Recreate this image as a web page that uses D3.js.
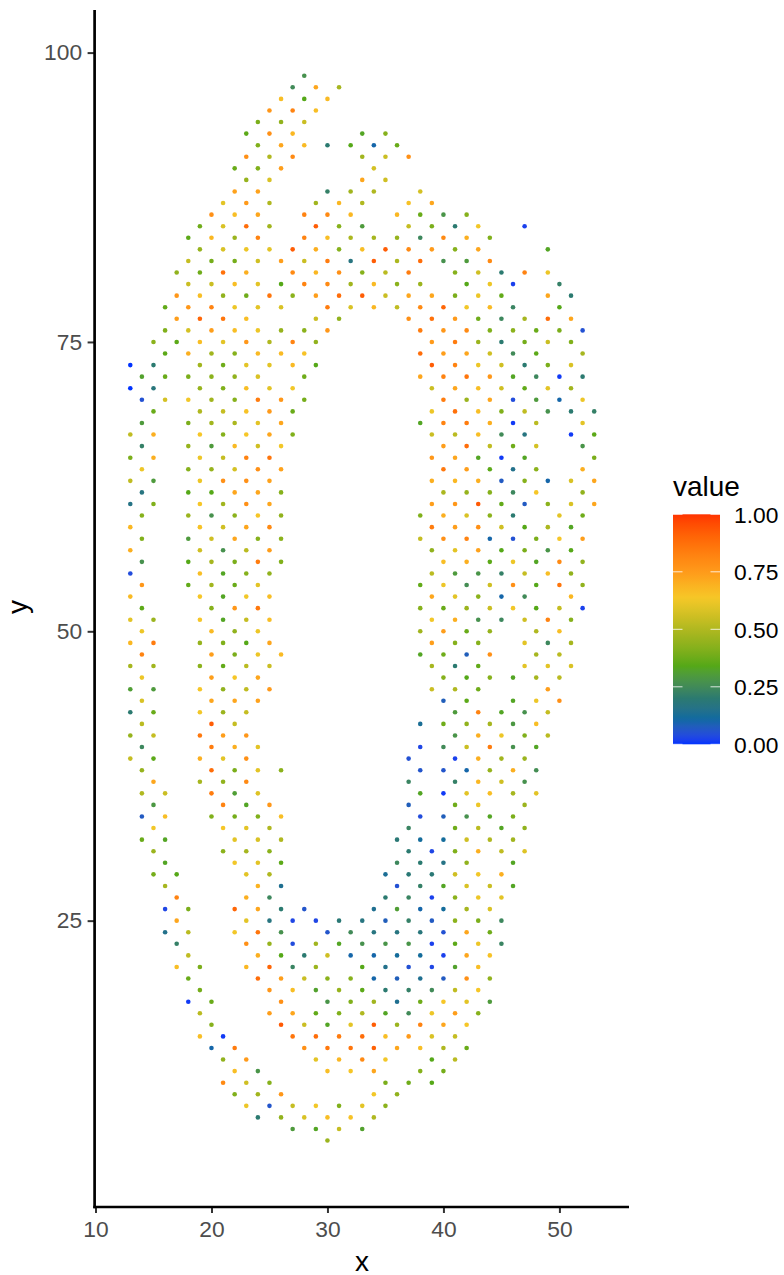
<!DOCTYPE html>
<html>
<head>
<meta charset="utf-8">
<script src="https://cdn.jsdelivr.net/npm/d3@7"></script>
<style>
body { margin: 0; background: #fff; }
text { font-family: "Liberation Sans", Arial, sans-serif; }
</style>
</head>
<body>
<svg width="784" height="1275"></svg>
<script>
const xTicks = [10, 20, 30, 40, 50];
const yTicks = [25, 50, 75, 100];
const legendTicks = [0, 0.25, 0.5, 0.75, 1];
const colorStops = [0, 0.11, 0.2, 0.34, 0.5, 0.635, 0.75, 1];
const colorValues = ['#0033ff', '#0a6aa0', '#2b7a70', '#55a818', '#b0b820', '#f5c828', '#ff9a1a', '#ff3300'];

const rowY = [98, 97, 96, 95, 94, 93, 92, 91, 90, 89, 88, 87, 86, 85, 84, 83, 82, 81, 80, 79, 78, 77, 76,
  75, 74, 73, 72, 71, 70, 69, 68, 67, 66, 65, 64, 63, 62, 61, 60, 59, 58, 57, 56, 55, 54, 53, 52, 51,
  50, 49, 48, 47, 46, 45, 44, 43, 42, 41, 40, 39, 38, 37, 36, 35, 34, 33, 32, 31, 30, 29,
  28, 27, 26, 25, 24, 23, 22, 21, 20, 19, 18, 17, 16, 15, 14, 13, 12, 11, 10, 9, 8, 7, 6];

const rowX = [
  [28],
  [27, 29, 31],
  [26, 28, 30],
  [25, 27, 29],
  [24, 26, 28],
  [23, 25, 27, 33, 35],
  [24, 26, 28, 30, 32, 34, 36],
  [23, 25, 27, 33, 35, 37],
  [22, 24, 26, 34],
  [23, 25, 33, 35],
  [22, 24, 30, 32, 34, 38],
  [21, 23, 25, 29, 31, 33, 37, 39],
  [20, 22, 24, 28, 30, 32, 36, 38, 40, 42],
  [19, 21, 23, 25, 29, 31, 33, 37, 39, 41, 43, 47],
  [18, 20, 22, 24, 28, 30, 32, 34, 36, 38, 40, 42, 44],
  [19, 21, 23, 25, 27, 29, 31, 33, 35, 37, 39, 41, 43, 49],
  [18, 20, 22, 24, 26, 28, 30, 32, 34, 36, 38, 40, 42, 44],
  [17, 19, 21, 23, 27, 29, 31, 33, 35, 37, 41, 43, 45, 47, 49],
  [18, 20, 22, 24, 26, 28, 30, 32, 34, 36, 38, 42, 44, 46, 50],
  [17, 19, 21, 23, 25, 27, 29, 31, 33, 35, 37, 39, 41, 43, 45, 49, 51],
  [16, 18, 20, 22, 24, 26, 30, 32, 34, 36, 38, 40, 42, 44, 46, 50],
  [17, 19, 21, 23, 29, 31, 37, 39, 41, 43, 45, 47, 49, 51],
  [16, 18, 20, 22, 24, 26, 28, 30, 38, 40, 42, 44, 46, 48, 50, 52],
  [15, 17, 19, 21, 23, 25, 27, 29, 39, 41, 43, 45, 47, 49, 51],
  [16, 18, 20, 22, 24, 26, 28, 38, 40, 42, 44, 46, 48, 52],
  [13, 15, 19, 21, 23, 25, 27, 29, 39, 41, 43, 45, 47, 49, 51],
  [14, 16, 18, 20, 22, 24, 28, 38, 40, 42, 44, 46, 48, 50, 52],
  [13, 15, 19, 21, 23, 25, 27, 39, 41, 43, 45, 47, 49, 51],
  [14, 16, 18, 20, 22, 24, 26, 28, 40, 42, 44, 46, 48, 50, 52],
  [15, 19, 21, 23, 25, 27, 39, 41, 43, 45, 47, 49, 51, 53],
  [14, 18, 20, 22, 24, 26, 38, 40, 42, 44, 46, 48, 52],
  [13, 15, 19, 21, 23, 25, 27, 39, 41, 43, 45, 47, 51, 53],
  [14, 18, 20, 22, 24, 26, 40, 42, 44, 46, 48, 52],
  [13, 15, 19, 21, 23, 25, 39, 41, 43, 45, 47, 53],
  [14, 18, 20, 22, 24, 26, 40, 42, 44, 46, 48, 52],
  [13, 15, 19, 21, 23, 25, 39, 41, 43, 45, 47, 49, 51, 53],
  [14, 18, 20, 22, 24, 26, 40, 42, 44, 46, 48, 52],
  [13, 15, 19, 21, 23, 25, 39, 41, 43, 45, 47, 49, 51, 53],
  [14, 18, 20, 22, 24, 26, 38, 40, 42, 44, 46, 50, 52],
  [13, 19, 21, 23, 25, 39, 41, 43, 45, 47, 49, 51],
  [14, 18, 20, 22, 24, 26, 38, 40, 42, 44, 46, 48, 50, 52],
  [13, 19, 21, 23, 25, 39, 41, 43, 45, 47, 49, 51],
  [14, 18, 20, 22, 24, 26, 40, 42, 44, 46, 48, 50, 52],
  [13, 19, 21, 23, 25, 39, 41, 43, 45, 47, 49, 51],
  [14, 18, 20, 22, 24, 38, 40, 42, 44, 46, 48, 50, 52],
  [13, 19, 21, 23, 25, 39, 41, 43, 45, 47, 51],
  [14, 20, 22, 24, 38, 40, 42, 44, 46, 48, 50, 52],
  [13, 15, 19, 21, 23, 25, 39, 41, 43, 45, 47, 49, 51],
  [14, 20, 22, 24, 38, 40, 42, 44, 48, 50],
  [13, 15, 19, 21, 23, 25, 39, 41, 43, 47, 49, 51],
  [14, 20, 22, 24, 26, 38, 40, 42, 44, 48, 50],
  [13, 15, 19, 21, 23, 25, 39, 41, 43, 47, 49, 51],
  [14, 20, 22, 24, 40, 42, 44, 46, 48, 50],
  [13, 15, 19, 21, 23, 25, 39, 41, 43, 49],
  [14, 20, 22, 24, 40, 42, 46, 48, 50],
  [13, 15, 19, 21, 23, 41, 43, 45, 47, 49],
  [14, 20, 22, 38, 40, 42, 44, 46, 48],
  [13, 15, 19, 21, 23, 41, 43, 45, 47, 49],
  [14, 20, 22, 24, 38, 40, 42, 44, 46, 48],
  [13, 15, 19, 21, 23, 37, 41, 43, 45, 47],
  [14, 20, 22, 24, 26, 38, 40, 42, 44, 46, 48],
  [15, 19, 21, 23, 37, 41, 43, 45, 47],
  [14, 16, 20, 22, 24, 38, 40, 42, 44, 46, 48],
  [15, 21, 23, 25, 37, 41, 43, 47],
  [14, 16, 20, 22, 24, 26, 38, 40, 42, 44, 46],
  [15, 21, 23, 25, 37, 41, 43, 45, 47],
  [14, 16, 22, 24, 26, 36, 38, 40, 42, 44, 46],
  [15, 21, 23, 25, 37, 39, 41, 43, 45, 47],
  [16, 22, 24, 26, 36, 38, 40, 42, 46],
  [15, 17, 23, 25, 35, 37, 39, 41, 43, 45],
  [16, 24, 26, 36, 38, 40, 42, 44, 46],
  [17, 23, 25, 35, 37, 39, 41, 43, 45],
  [16, 18, 22, 24, 26, 28, 34, 36, 38, 40, 42, 44],
  [17, 23, 25, 27, 29, 31, 33, 35, 37, 39, 41, 43, 45],
  [16, 18, 22, 24, 26, 30, 32, 34, 36, 38, 40, 42, 44],
  [17, 23, 25, 27, 29, 31, 33, 35, 37, 39, 41, 43, 45],
  [18, 24, 26, 28, 30, 32, 34, 36, 38, 40, 42, 44],
  [17, 19, 23, 25, 27, 29, 33, 35, 37, 39, 41, 43],
  [18, 24, 26, 28, 30, 32, 34, 36, 38, 40, 42, 44],
  [19, 25, 27, 29, 31, 33, 35, 37, 39, 41, 43],
  [18, 20, 26, 30, 32, 34, 36, 38, 40, 42, 44],
  [19, 25, 27, 29, 31, 33, 35, 37, 39, 41, 43],
  [20, 26, 28, 30, 32, 34, 36, 38, 40, 42],
  [19, 21, 27, 29, 31, 33, 35, 37, 39, 41],
  [20, 22, 28, 30, 32, 34, 36, 38, 40, 42],
  [21, 23, 29, 31, 33, 35, 39, 41],
  [22, 24, 30, 32, 34, 38, 40],
  [21, 23, 25, 35, 37, 39],
  [22, 24, 26, 34, 36],
  [23, 25, 27, 29, 31, 33, 35],
  [24, 26, 28, 30, 32, 34],
  [27, 29, 31, 33],
  [30]
];

const rowValue = [
  [.27],
  [.25, .72, .48],
  [.66, .34, .67],
  [.76, .82, .66],
  [.4, .44, .55],
  [.35, .78, .68, .33, .42],
  [.41, .72, .67, .2, .34, .1, .37],
  [.78, .5, .8, .47, .55, .78],
  [.37, .41, .74, .57],
  [.45, .58, .72, .56],
  [.73, .73, .22, .47, .5, .57],
  [.6, .75, .5, .47, .68, .5, .65, .72],
  [.78, .66, .72, .82, .8, .68, .68, .37, .28, .42],
  [.38, .58, .88, .47, .92, .42, .3, .54, .4, .2, .63, .02],
  [.35, .68, .46, .82, .82, .66, .49, .48, .45, .24, .8, .7, .41],
  [.45, .58, .62, .6, .92, .7, .42, .66, .92, .8, .75, .42, .72, .33],
  [.54, .39, .39, .56, .74, .55, .84, .17, .92, .49, .88, .27, .3, .8],
  [.44, .38, .87, .7, .8, .68, .78, .42, .52, .84, .42, .56, .2, .82, .62],
  [.55, .55, .66, .6, .34, .82, .8, .47, .67, .43, .46, .34, .62, .02, .22],
  [.76, .66, .44, .38, .86, .43, .74, .88, .92, .55, .72, .72, .4, .62, .36, .72, .2],
  [.36, .76, .82, .62, .6, .58, .84, .58, .68, .53, .8, .9, .63, .67, .23, .34],
  [.74, .9, .86, .66, .55, .44, .78, .87, .75, .38, .24, .48, .88, .72],
  [.41, .57, .74, .66, .62, .45, .43, .76, .84, .76, .8, .41, .43, .37, .4, .05],
  [.43, .35, .66, .6, .76, .5, .82, .44, .75, .84, .46, .2, .39, .55, .41],
  [.35, .7, .47, .42, .67, .67, .65, .88, .74, .72, .56, .25, .35, .48],
  [0, .2, .47, .38, .6, .6, .67, .34, .92, .82, .62, .56, .2, .4, .58],
  [.32, .37, .4, .43, .44, .58, .38, .72, .82, .86, .76, .33, .24, .01, .2],
  [0, .18, .45, .41, .66, .6, .63, .55, .72, .66, .56, .36, .6, .47],
  [.05, .57, .63, .47, .42, .84, .76, .39, .84, .46, .72, .04, .3, .1, .62],
  [.37, .5, .54, .65, .75, .37, .62, .87, .66, .41, .53, .27, .2, .22],
  [.3, .4, .47, .49, .6, .72, .33, .82, .84, .7, .01, .52, .6],
  [.53, .7, .64, .42, .64, .72, .41, .55, .52, .66, .25, .17, .01, .35],
  [.22, .45, .3, .67, .56, .63, .74, .88, .53, .38, .57, .28],
  [.4, .7, .62, .54, .82, .86, .76, .72, .33, .01, .33, .4],
  [.62, .42, .45, .57, .78, .73, .85, .74, .35, .15, .43, .7],
  [.53, .3, .62, .78, .78, .73, .7, .68, .7, .07, .42, .1, .58, .72],
  [.17, .34, .34, .72, .72, .42, .49, .45, .42, .24, .64, .44],
  [.16, .41, .64, .47, .78, .72, .74, .76, .93, .36, .07, .43, .58, .72],
  [.42, .46, .27, .43, .64, .44, .41, .7, .58, .43, .2, .6, .38],
  [.68, .65, .56, .72, .8, .84, .74, .78, .56, .34, .49, .33],
  [.41, .3, .56, .72, .42, .43, .54, .78, .82, .1, .05, .4, .64, .74],
  [.7, .56, .27, .52, .74, .44, .6, .73, .34, .4, .28, .34],
  [.27, .34, .48, .4, .84, .41, .66, .7, .35, .62, .33, .8, .44],
  [.04, .66, .33, .42, .44, .52, .3, .28, .22, .54, .66, .44],
  [.76, .36, .47, .37, .6, .36, .62, .26, .56, .78, .34, .86, .44],
  [.67, .64, .33, .63, .66, .72, .6, .43, .1, .25, .68],
  [.35, .42, .76, .85, .42, .37, .46, .55, .63, .34, .54, .02],
  [.6, .46, .64, .33, .54, .66, .63, .7, .27, .24, .56, .82, .42],
  [.62, .67, .44, .62, .47, .74, .37, .45, .5, .66],
  [.68, .84, .45, .41, .34, .72, .74, .42, .42, .6, .24, .48],
  [.82, .74, .4, .62, .67, .33, .38, .08, .78, .48, .52],
  [.48, .47, .43, .36, .52, .55, .48, .2, .36, .6, .6, .58],
  [.62, .74, .64, .72, .42, .34, .42, .33, .48, .52],
  [.31, .3, .64, .44, .53, .75, .55, .5, .38, .74],
  [.58, .72, .72, .73, .08, .35, .33, .62, .78],
  [.2, .37, .63, .46, .54, .3, .82, .33, .27, .54],
  [.52, .92, .54, .13, .38, .44, .48, .29, .66],
  [.45, .54, .85, .74, .76, .28, .7, .62, .41, .52],
  [.24, .84, .7, .6, .03, .25, .55, .84, .27, .33],
  [.54, .35, .7, .6, .78, .05, .02, .7, .47, .46],
  [.45, .88, .4, .6, .43, .06, .06, .1, .45, .7, .26],
  [.72, .48, .44, .8, .23, .22, .68, .56, .27],
  [.5, .55, .84, .31, .59, .33, .01, .6, .66, .48, .6],
  [.29, .82, .33, .76, .08, .38, .62, .46],
  [.07, .66, .41, .39, .41, .66, .04, .08, .27, .33, .4],
  [.63, .64, .6, .5, .23, .38, .52, .33, .44],
  [.37, .33, .6, .58, .5, .19, .12, .12, .56, .5, .47],
  [.46, .43, .48, .43, .2, .03, .41, .7, .53, .59],
  [.33, .63, .6, .35, .24, .2, .16, .44, .33],
  [.39, .34, .6, .5, .13, .19, .19, .56, .63, .7],
  [.48, .69, .14, .05, .22, .33, .58, .55, .33],
  [.82, .7, .24, .2, .23, .02, .43, .62, .6],
  [.03, .4, .9, .72, .2, .06, .14, .31, .1, .12, .48, .58],
  [.72, .6, .17, .03, .03, .19, .17, .08, .22, .07, .43, .4, .24],
  [.15, .52, .63, .86, .27, .06, .25, .17, .17, .18, .05, .72, .38],
  [.22, .78, .45, .04, .47, .33, .27, .28, .28, .02, .35, .62, .23],
  [.53, .7, .34, .2, .56, .1, .1, .12, .12, .02, .72, .65],
  [.66, .4, .68, .9, .23, .46, .34, .15, .05, .03, .32, .66],
  [.37, .88, .74, .55, .43, .42, .1, .08, .14, .07, .78, .44],
  [.39, .76, .66, .32, .45, .35, .2, .22, .25, .53, .64],
  [.01, .37, .78, .28, .41, .47, .14, .38, .64, .6, .3],
  [.52, .74, .72, .36, .41, .5, .33, .25, .62, .74, .42],
  [.42, .93, .55, .33, .6, .92, .46, .82, .72, .64],
  [.66, .01, .86, .88, .84, .88, .66, .75, .58, .54],
  [.1, .84, .78, .85, .86, .91, .72, .66, .5, .37],
  [.44, .75, .6, .68, .8, .63, .34, .52],
  [.66, .28, .66, .64, .72, .42, .39],
  [.8, .56, .42, .4, .38, .34],
  [.41, .47, .76, .63, .44],
  [.62, .06, .54, .63, .41, .6, .43],
  [.2, .44, .58, .66, .65, .5],
  [.3, .33, .54, .32],
  [.46]
];

const spots = rowY.flatMap((y, i) => rowX[i].map((x, j) => ({ x, y, value: rowValue[i][j] })));

const svg = d3.select('svg');

const xScale = d3.scaleLinear().domain([10, 56]).range([95.5, 629]);
const yScale = d3.scaleLinear().domain([100, 0.26]).range([52.6, 1207]);
const color = d3.scaleLinear().domain(colorStops).range(colorValues).interpolate(d3.interpolateLab);

svg.append('g')
  .selectAll('circle')
  .data(spots)
  .join('circle')
  .attr('cx', d => xScale(d.x))
  .attr('cy', d => yScale(d.y))
  .attr('r', 2.3)
  .attr('fill', d => color(d.value));

const xAxis = svg.append('g')
  .attr('transform', 'translate(0, 1207)')
  .call(d3.axisBottom(xScale).tickValues(xTicks).tickSize(6).tickPadding(7.5).tickFormat(d3.format('d')));
const yAxis = svg.append('g')
  .attr('transform', 'translate(94.6, 0)')
  .call(d3.axisLeft(yScale).tickValues(yTicks).tickSize(7).tickPadding(5.5).tickFormat(d3.format('d')));

for (const axis of [xAxis, yAxis]) {
  axis.select('.domain').remove();
  axis.selectAll('.tick line').attr('stroke', '#333').attr('stroke-width', 2);
  axis.selectAll('.tick text').attr('fill', '#4d4d4d').attr('font-size', 22.8)
    .attr('font-family', '"Liberation Sans", Arial, sans-serif');
}

svg.append('line').attr('x1', 94.6).attr('x2', 94.6).attr('y1', 10).attr('y2', 1208.2)
  .attr('stroke', '#000').attr('stroke-width', 2.7);
svg.append('line').attr('x1', 93.3).attr('x2', 629).attr('y1', 1207).attr('y2', 1207)
  .attr('stroke', '#000').attr('stroke-width', 2.7);

svg.append('text').attr('x', 362).attr('y', 1271).attr('text-anchor', 'middle')
  .attr('font-size', 28).text('x');
svg.append('text').attr('transform', 'translate(27, 607) rotate(-90)').attr('text-anchor', 'middle')
  .attr('font-size', 28).text('y');

// legend
const legendY = d3.scaleLinear().domain([0, 1]).range([744.3, 514.3]);
const gradient = svg.append('defs').append('linearGradient')
  .attr('id', 'bar').attr('x1', 0).attr('x2', 0).attr('y1', 1).attr('y2', 0);
gradient.selectAll('stop')
  .data(d3.range(0, 1.001, 0.02))
  .join('stop')
  .attr('offset', d => d)
  .attr('stop-color', d => color(d));

svg.append('text').attr('x', 673).attr('y', 496).attr('font-size', 28).text('value');
svg.append('rect').attr('x', 673).attr('y', 514.3).attr('width', 47).attr('height', 230)
  .attr('fill', 'url(#bar)');

const legendTick = svg.append('g').selectAll('g').data(legendTicks).join('g')
  .attr('transform', d => `translate(0, ${legendY(d)})`);
legendTick.append('line').attr('x1', 673).attr('x2', 682.5)
  .attr('stroke', '#fff').attr('stroke-width', 1).attr('stroke-opacity', 0.8);
legendTick.append('line').attr('x1', 710.5).attr('x2', 720)
  .attr('stroke', '#fff').attr('stroke-width', 1).attr('stroke-opacity', 0.8);
legendTick.append('text').attr('x', 734).attr('dy', '0.36em').attr('font-size', 22.8)
  .attr('fill', '#000').text(d => d3.format('.2f')(d));
</script>
</body>
</html>
